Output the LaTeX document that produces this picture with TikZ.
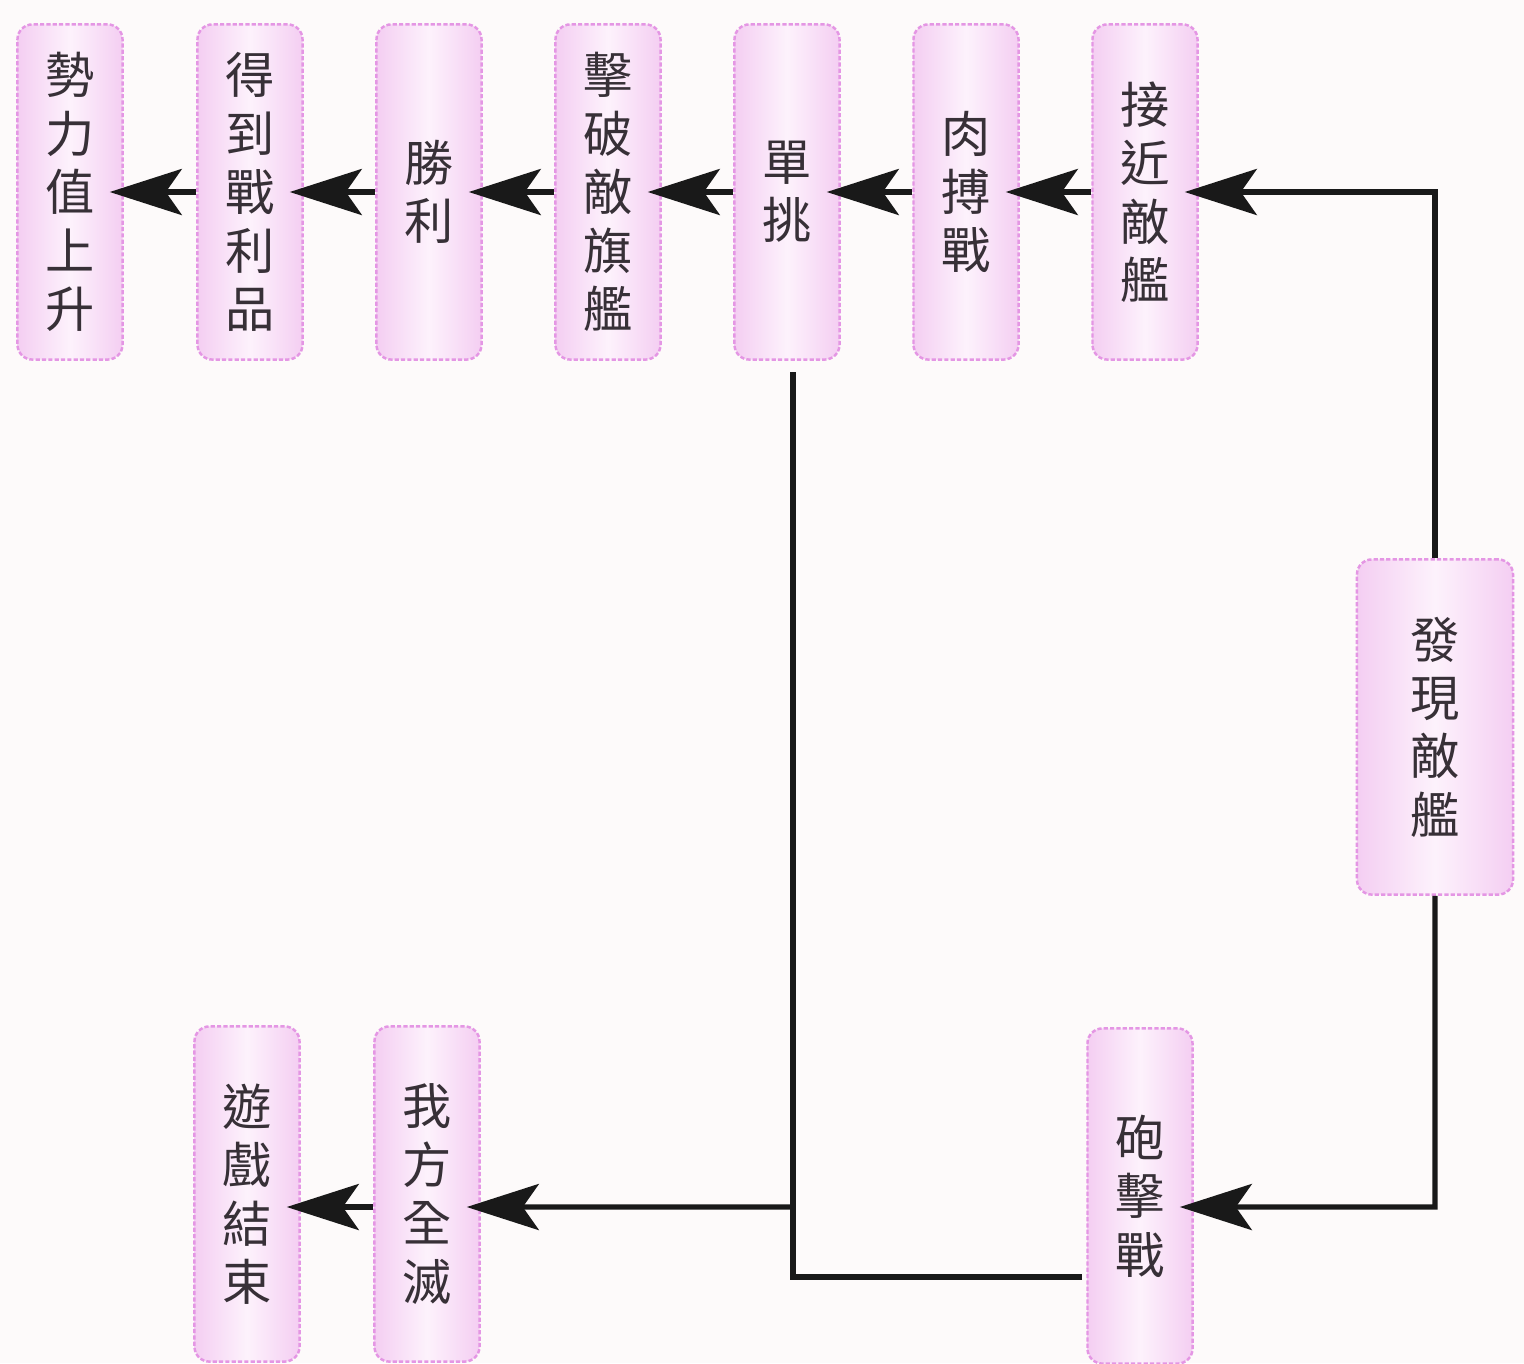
\documentclass[tikz,border=0pt]{standalone}
\usepackage{fontspec}
\newfontfamily\cjk{Noto Sans CJK TC}
\usetikzlibrary{arrows.meta}
\definecolor{bgc}{RGB}{253,250,250}
\definecolor{boxedge}{RGB}{244,206,242}
\definecolor{boxmid}{RGB}{253,242,252}
\definecolor{boxline}{RGB}{228,150,228}
\definecolor{txt}{RGB}{55,48,55}
\definecolor{wire}{RGB}{25,25,25}
\tikzset{
  stagebox/.style={rectangle, rounded corners=0.15cm, minimum width=1.05cm, minimum height=3.35cm,
    left color=boxedge, right color=boxedge, middle color=boxmid, shading angle=90,
    draw=boxline, line width=0.7pt, dash pattern=on 1.2pt off 0.6pt,
    align=center, text=txt, font=\cjk\fontsize{14pt}{16.6pt}\selectfont, inner sep=0pt},
  wirel/.style={draw=wire, line width=1.5pt},
  arr/.style={wirel, -{Stealth[length=0.72cm, width=0.46cm, inset=0.16cm]}, shorten >=-0.14cm}
}
\begin{document}
\begin{tikzpicture}[x=0.01cm, y=-0.01cm]
\fill[bgc] (0,0) rectangle (1524,1363);
\useasboundingbox (0,0) rectangle (1524,1363);
% top row
\node[stagebox] (shili)  at (70,192)   {勢\\力\\值\\上\\升};
\node[stagebox] (dedao)  at (250,192)  {得\\到\\戰\\利\\品};
\node[stagebox] (shengli) at (429,192) {勝\\利};
\node[stagebox] (jipo)   at (608,192)  {擊\\破\\敵\\旗\\艦};
\node[stagebox] (dantiao) at (787,192) {單\\挑};
\node[stagebox] (roubo)  at (966,192)  {肉\\搏\\戰};
\node[stagebox] (jiejin) at (1145,192) {接\\近\\敵\\艦};
% right
\node[stagebox, minimum width=1.56cm] (faxian) at (1435,727) {發\\現\\敵\\艦};
% bottom row
\node[stagebox] (paoji)  at (1140,1196) {砲\\擊\\戰};
\node[stagebox] (wofang) at (427,1194) {我\\方\\全\\滅};
\node[stagebox] (youxi)  at (247,1194) {遊\\戲\\結\\束};
% coordinates of wire bends
\coordinate (tr) at (1435,192);
\coordinate (br) at (1435,1207);
\coordinate (dtop) at (793,372);
\coordinate (jn) at (793,1207);
\coordinate (bl) at (793,1277);
\coordinate (pl) at (1082,1277);
% connectors
\draw[arr] (faxian.north) -- (tr) -- (jiejin.east);
\draw[arr] (faxian.south) -- (br) -- ([yshift=-0.11cm]paoji.east);
\draw[arr] (jiejin.west) -- (roubo.east);
\draw[arr] (roubo.west) -- (dantiao.east);
\draw[arr] (dantiao.west) -- (jipo.east);
\draw[arr] (jipo.west) -- (shengli.east);
\draw[arr] (shengli.west) -- (dedao.east);
\draw[arr] (dedao.west) -- (shili.east);
\draw[wirel] (pl) -- (bl) -- (dtop);
\draw[arr] (jn) -- ([yshift=-0.13cm]wofang.east);
\draw[arr] ([yshift=-0.13cm]wofang.west) -- ([yshift=-0.13cm]youxi.east);
\end{tikzpicture}
\end{document}
